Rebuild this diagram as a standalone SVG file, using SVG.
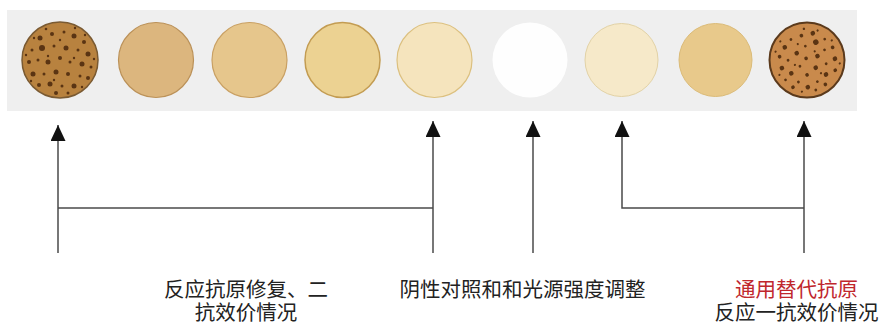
<svg xmlns="http://www.w3.org/2000/svg" xmlns:xlink="http://www.w3.org/1999/xlink" width="883" height="326" viewBox="0 0 883 326">
  <style>
    .lbl { font-family: "Noto Sans CJK SC", "Noto Sans", sans-serif; font-size: 20.5px; fill: #222; text-anchor: middle; }
    .red { fill: #c0272d; }
    .wire { fill: none; stroke: #4a4a4a; stroke-width: 1.5; }
    .arrow { marker-end: url(#head); }
    .dot { fill: #5a3413; }
  </style>
  <defs>
    <marker id="head" markerUnits="userSpaceOnUse" markerWidth="16" markerHeight="15" viewBox="0 0 16 15" refX="16" refY="7.5" orient="auto">
      <path d="M0,0 L16,7.5 L0,15 Z" fill="#111"/>
    </marker>
    <!-- scattered colony dots, centred on the origin -->
    <g id="dots" class="dot">
      <circle cx="-20" cy="-22" r="2.5"/><circle cx="-8" cy="-26" r="2"/><circle cx="4" cy="-28" r="1.5"/>
      <circle cx="14" cy="-24" r="2.5"/><circle cx="24" cy="-18" r="2"/><circle cx="-28" cy="-10" r="1.5"/>
      <circle cx="-18" cy="-12" r="3"/><circle cx="-6" cy="-14" r="1.5"/><circle cx="6" cy="-12" r="2.5"/>
      <circle cx="18" cy="-10" r="1.5"/><circle cx="28" cy="-6" r="2.5"/><circle cx="-31" cy="2" r="2"/>
      <circle cx="-22" cy="0" r="1.5"/><circle cx="-12" cy="2" r="2.5"/><circle cx="0" cy="-2" r="2"/>
      <circle cx="10" cy="2" r="1.5"/><circle cx="22" cy="4" r="2.5"/><circle cx="31" cy="7" r="1.5"/>
      <circle cx="-27" cy="14" r="2.5"/><circle cx="-16" cy="14" r="1.5"/><circle cx="-4" cy="12" r="2.5"/>
      <circle cx="8" cy="14" r="2"/><circle cx="20" cy="16" r="1.5"/><circle cx="28" cy="18" r="2"/>
      <circle cx="-21" cy="25" r="2"/><circle cx="-10" cy="24" r="2.5"/><circle cx="2" cy="26" r="1.5"/>
      <circle cx="14" cy="26" r="2.5"/><circle cx="-4" cy="33" r="2"/><circle cx="8" cy="33" r="1.5"/>
      <circle cx="-14" cy="-31" r="1.3"/><circle cx="-26" cy="-22" r="1.2"/><circle cx="34" cy="-1" r="1.2"/>
      <circle cx="-34" cy="-5" r="1.2"/><circle cx="15" cy="-32" r="1.2"/><circle cx="-29" cy="21" r="1.2"/>
      <circle cx="22" cy="27" r="1.2"/><circle cx="0" cy="-20" r="1.2"/><circle cx="-12" cy="-4" r="1.2"/>
      <circle cx="14" cy="-2" r="1.2"/><circle cx="-6" cy="20" r="1.2"/><circle cx="25" cy="-25" r="1.2"/>
    </g>
  </defs>

  <!-- plate strip -->
  <rect x="7" y="10" width="850" height="101" fill="#efefef"/>

  <g id="well1">
    <circle cx="60" cy="60" r="38" fill="#b8823f" stroke="#7a5a32" stroke-width="1.5"/>
    <use xlink:href="#dots" transform="translate(60,60)"/>
  </g>
  <g id="well2"><circle cx="156" cy="60" r="37.5" fill="#dcb67e" stroke="#bb9158" stroke-width="1.2"/></g>
  <g id="well3"><circle cx="249.5" cy="60" r="37.5" fill="#e6c68c" stroke="#c9a063" stroke-width="1.2"/></g>
  <g id="well4"><circle cx="342.5" cy="60" r="37.5" fill="#ecd292" stroke="#c39c52" stroke-width="1.5"/></g>
  <g id="well5"><circle cx="434.5" cy="60" r="37.5" fill="#f5e4bd" stroke="#dcc07f" stroke-width="1.2"/></g>
  <g id="well6"><circle cx="530" cy="60" r="37.5" fill="#fefefe"/></g>
  <g id="well7"><circle cx="621.5" cy="60" r="36.5" fill="#f6e9c9" stroke="#e2d2a6" stroke-width="1"/></g>
  <g id="well8"><circle cx="715.5" cy="60" r="36.5" fill="#e8c98b" stroke="#dbbb78" stroke-width="1"/></g>
  <g id="well9">
    <circle cx="807" cy="60" r="37.5" fill="#c98a4c" stroke="#5b3a1c" stroke-width="2"/>
    <use xlink:href="#dots" transform="translate(807,60) scale(-1,1) rotate(30) scale(0.92)"/>
  </g>

  <g id="connectors">
    <path class="wire arrow" d="M58,253 V125"/>
    <path class="wire" d="M58,208 H433"/>
    <path class="wire arrow" d="M433,253 V121"/>
    <path class="wire arrow" d="M533,253 V121"/>
    <path class="wire arrow" d="M804,208 H622 V121"/>
    <path class="wire arrow" d="M804,253 V121"/>
  </g>

  <g id="label1">
    <text class="lbl" x="246" y="297">反应抗原修复、二</text>
    <text class="lbl" x="246" y="320">抗效价情况</text>
  </g>
  <g id="label2">
    <text class="lbl" x="522.5" y="297">阴性对照和和光源强度调整</text>
  </g>
  <g id="label3">
    <text class="lbl red" x="796.5" y="297">通用替代抗原</text>
    <text class="lbl" x="796.5" y="320">反应一抗效价情况</text>
  </g>
</svg>
